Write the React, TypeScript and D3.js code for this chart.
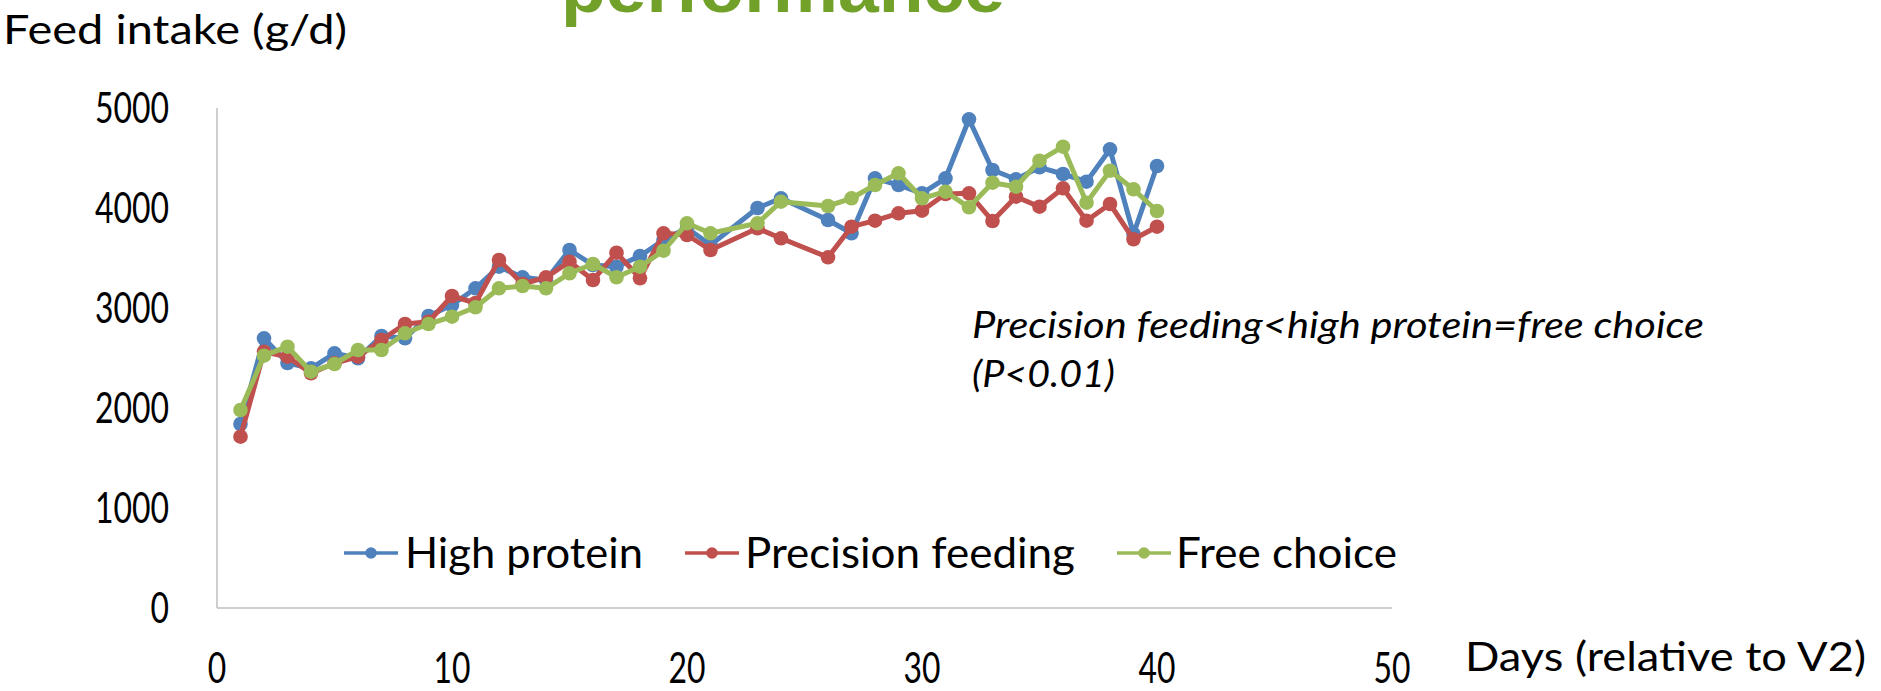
import React from "react";
import * as d3 from "d3";

const days = [1, 2, 3, 4, 5, 6, 7, 8, 9, 10, 11, 12, 13, 14, 15, 16, 17, 18, 19, 20, 21, 23, 24, 26, 27, 28, 29, 30, 31, 32, 33, 34, 35, 36, 37, 38, 39, 40];

const highProtein = [1840, 2697, 2450, 2397, 2547, 2497, 2720, 2697, 2920, 3030, 3197, 3413, 3307, 3280, 3580, 3430, 3413, 3520, 3680, 3800, 3630, 4000, 4097, 3880, 3747, 4297, 4230, 4147, 4297, 4887, 4380, 4287, 4407, 4340, 4263, 4587, 3740, 4420];

const precisionFeeding = [1713, 2563, 2513, 2347, 2447, 2513, 2680, 2840, 2863, 3120, 3050, 3480, 3240, 3307, 3463, 3280, 3553, 3297, 3747, 3730, 3580, 3797, 3697, 3507, 3813, 3873, 3947, 3973, 4140, 4147, 3870, 4113, 4013, 4197, 3873, 4040, 3687, 3813];

const freeChoice = [1980, 2523, 2613, 2363, 2440, 2580, 2580, 2747, 2840, 2913, 3007, 3197, 3220, 3197, 3347, 3440, 3307, 3413, 3573, 3847, 3747, 3847, 4063, 4020, 4097, 4230, 4347, 4097, 4163, 4007, 4253, 4213, 4473, 4613, 4053, 4373, 4187, 3970];

const seriesNames = ["High protein", "Precision feeding", "Free choice"];
const seriesColors = ["#4f81bd", "#c0504d", "#9bbb59"];

const xTicks = [0, 10, 20, 30, 40, 50];
const yTicks = [0, 1000, 2000, 3000, 4000, 5000];

const FONT = "Lato, 'Open Sans', sans-serif";

export default function App() {
  const W = 1881;
  const H = 691;
  const x = d3.scaleLinear().domain([0, 50]).range([217, 1392]);
  const y = d3.scaleLinear().domain([0, 5000]).range([608, 108]);

  const allSeries = [highProtein, precisionFeeding, freeChoice];
  const line = d3
    .line<number>()
    .x((_, i) => x(days[i]))
    .y((v) => y(v));

  const legendItems = [
    { lineX: 344, textX: 405, textLen: 238 },
    { lineX: 685, textX: 745, textLen: 330 },
    { lineX: 1117, textX: 1176, textLen: 221 },
  ];

  return (
    <svg
      width={W}
      height={H}
      style={{ position: "absolute", left: 0, top: 0, background: "#fff" }}
    >
      <rect x={0} y={0} width={W} height={H} fill="#fff" />
      {/* clipped slide title */}
      <text
        x={561}
        y={12}
        fontFamily="'Liberation Sans', Arial, sans-serif"
        fontWeight="bold"
        fontSize={70}
        fill="#72a12a"
        textLength={444}
        lengthAdjust="spacingAndGlyphs"
      >
        performance
      </text>

      {/* y-axis title */}
      <text
        x={3}
        y={44}
        fontFamily={FONT}
        fontSize={40}
        fill="#000"
        textLength={344}
        lengthAdjust="spacingAndGlyphs"
      >
        Feed intake (g/d)
      </text>

      {/* axes */}
      <line x1={x(0)} x2={x(0)} y1={y(5000)} y2={y(0)} stroke="#bfbfbf" strokeWidth={1.5} />
      <line x1={x(0)} x2={x(50)} y1={y(0)} y2={y(0)} stroke="#bfbfbf" strokeWidth={1.5} />

      {yTicks.map((t) => (
        <text
          key={"y" + t}
          x={169}
          y={y(t) + 14.5}
          textAnchor="end"
          fontFamily={FONT}
          fontSize={42}
          fill="#000"
          textLength={String(t).length * 18.5}
          lengthAdjust="spacingAndGlyphs"
        >
          {t}
        </text>
      ))}

      {xTicks.map((t) => (
        <text
          key={"x" + t}
          x={x(t)}
          y={683}
          textAnchor="middle"
          fontFamily={FONT}
          fontSize={42}
          fill="#000"
          textLength={String(t).length * 18.5}
          lengthAdjust="spacingAndGlyphs"
        >
          {t}
        </text>
      ))}

      <text
        x={1465}
        y={671}
        fontFamily={FONT}
        fontSize={40}
        fill="#000"
        textLength={401}
        lengthAdjust="spacingAndGlyphs"
      >
        Days (relative to V2)
      </text>

      {/* series */}
      {allSeries.map((s, si) => (
        <g key={"s" + si}>
          <path
            d={line(s) || ""}
            fill="none"
            stroke={seriesColors[si]}
            strokeWidth={5}
            strokeLinejoin="round"
          />
          {s.map((v, i) => (
            <circle key={i} cx={x(days[i])} cy={y(v)} r={7.3} fill={seriesColors[si]} />
          ))}
        </g>
      ))}

      {/* annotation */}
      <text
        x={972}
        y={338}
        fontFamily={FONT}
        fontStyle="italic"
        fontSize={36}
        fill="#000"
        textLength={732}
        lengthAdjust="spacingAndGlyphs"
      >
        Precision feeding&lt;high protein=free choice
      </text>
      <text
        x={972}
        y={387}
        fontFamily={FONT}
        fontStyle="italic"
        fontSize={36}
        fill="#000"
        textLength={143}
        lengthAdjust="spacingAndGlyphs"
      >
        (P&lt;0.01)
      </text>

      {/* legend */}
      {legendItems.map((li, i) => (
        <g key={"l" + i}>
          <line
            x1={li.lineX}
            x2={li.lineX + 54}
            y1={553}
            y2={553}
            stroke={seriesColors[i]}
            strokeWidth={3.5}
          />
          <circle cx={li.lineX + 27} cy={553} r={5.8} fill={seriesColors[i]} />
          <text
            x={li.textX}
            y={568}
            fontFamily={FONT}
            fontSize={42}
            fill="#000"
            textLength={li.textLen}
            lengthAdjust="spacingAndGlyphs"
          >
            {seriesNames[i]}
          </text>
        </g>
      ))}
    </svg>
  );
}
